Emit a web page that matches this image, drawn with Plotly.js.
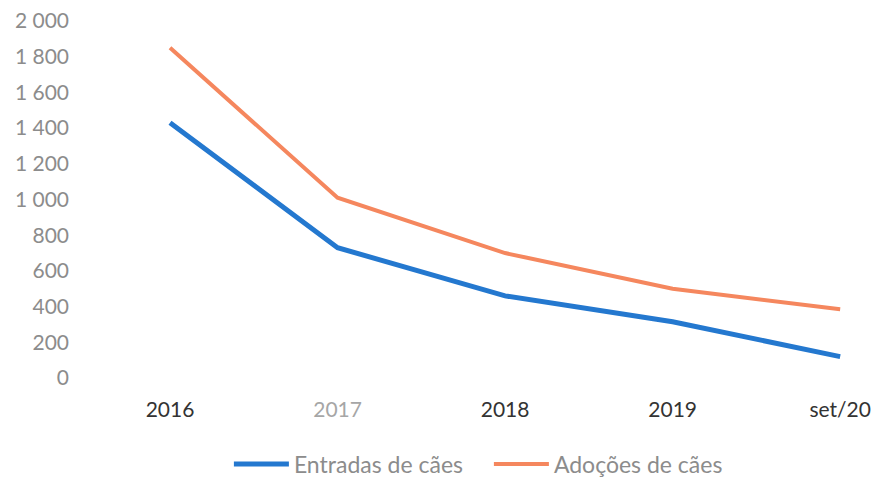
<!DOCTYPE html>
<html>
<head>
<meta charset="utf-8">
<script src="https://cdn.plot.ly/plotly-3.0.1.min.js"></script>
<style>html,body{margin:0;padding:0;background:#fff;}#chart{width:877px;height:477px;}</style>
</head>
<body>
<div id="chart"></div>
<script>
const categories = ["2016", "2017", "2018", "2019", "set/20"];
const tickLabels = ["2016", "<span style='color:#a6a6a6'>2017</span>", "2018", "2019", "set/20"];
const entradas = [1430, 730, 460, 315, 120];
const adocoes = [1850, 1010, 700, 500, 385];
const yTicks = [0, 200, 400, 600, 800, 1000, 1200, 1400, 1600, 1800, 2000];
const yTickText = ["0", "200", "400", "600", "800", "1 000", "1 200", "1 400", "1 600", "1 800", "2 000"];

const traces = [
  {x: categories, y: entradas, name: "Entradas de cães", type: "scatter", mode: "lines",
   line: {color: "#2478CF", width: 5}},
  {x: categories, y: adocoes, name: "Adoções de cães", type: "scatter", mode: "lines",
   line: {color: "#F5875E", width: 4}}
];

const layout = {
  width: 877, height: 477,
  margin: {l: 70, r: 5, t: 21, b: 99},
  paper_bgcolor: "#fff", plot_bgcolor: "#fff",
  font: {family: "Lato, 'Open Sans', sans-serif"},
  showlegend: true,
  legend: {orientation: "h", xref: "container", yref: "container",
           x: 0.261, xanchor: "left", y: 0.027, yanchor: "middle",
           font: {size: 23, color: "#8c8c8c"}, itemwidth: 55, entrywidth: 190, tracegroupgap: 0},
  xaxis: {type: "category", range: [-0.597, 4.19], showgrid: false, zeroline: false, showline: false,
          tickvals: categories, ticktext: tickLabels,
          ticks: "", ticklabelstandoff: 17, tickfont: {size: 21, color: "#333"}},
  yaxis: {range: [0, 2000], showgrid: false, zeroline: false, showline: false,
          tickvals: yTicks, ticktext: yTickText, ticks: "",
          tickfont: {size: 21, color: "#8c8c8c"}}
};
Plotly.newPlot("chart", traces, layout, {displayModeBar: false, staticPlot: true});
</script>
</body>
</html>
